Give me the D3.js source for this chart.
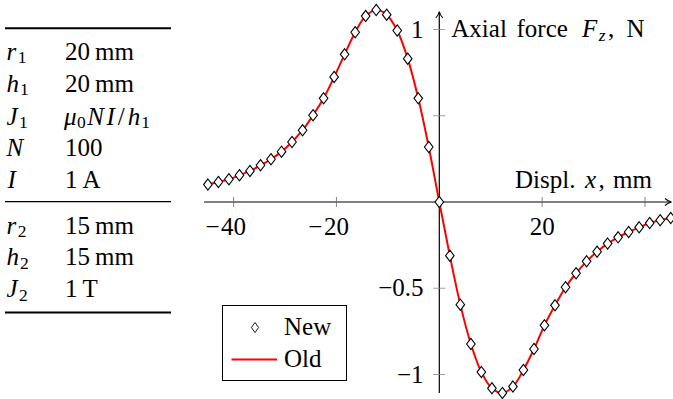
<!DOCTYPE html>
<html><head><meta charset="utf-8">
<script src="https://cdn.jsdelivr.net/npm/d3@7"></script>
<style>
html,body{margin:0;padding:0;background:#fff;}
svg{display:block;}
</style></head>
<body>
<script>
// ---- data ----
const xValues = [-45, -42.95, -40.91, -38.86, -36.82, -34.77, -32.73, -30.68, -28.64, -26.59, -24.55, -22.5, -20.45, -18.41, -16.36, -14.32, -12.27, -10.23, -8.18, -6.14, -4.09, -2.05, 0, 2.05, 4.09, 6.14, 8.18, 10.23, 12.27, 14.32, 16.36, 18.41, 20.45, 22.5, 24.55, 26.59, 28.64, 30.68, 32.73, 34.77, 36.82, 38.86, 40.91, 42.95, 45];
const newValues = [0.101, 0.116, 0.132, 0.155, 0.180, 0.213, 0.248, 0.292, 0.348, 0.416, 0.503, 0.601, 0.725, 0.856, 0.984, 1.078, 1.113, 1.086, 0.994, 0.831, 0.601, 0.319, 0.0, -0.311, -0.595, -0.823, -0.986, -1.080, -1.107, -1.070, -0.974, -0.852, -0.715, -0.599, -0.494, -0.413, -0.344, -0.288, -0.241, -0.205, -0.174, -0.147, -0.122, -0.106, -0.093];
const oldValues = [0.101, 0.116, 0.132, 0.155, 0.180, 0.213, 0.248, 0.292, 0.348, 0.416, 0.503, 0.601, 0.725, 0.856, 0.984, 1.078, 1.113, 1.086, 0.994, 0.831, 0.601, 0.319, 0.0, -0.311, -0.595, -0.823, -0.986, -1.080, -1.107, -1.070, -0.974, -0.852, -0.715, -0.599, -0.494, -0.413, -0.344, -0.288, -0.241, -0.205, -0.174, -0.147, -0.122, -0.106, -0.093];
const xTicks = [-40, -20, 20, 40];
const xTickLabels = ["\u221240", "\u221220", "20", ""];
const yTicks = [1, 0.5, -0.5, -1];
const yTickLabels = ["1", "", "\u22120.5", "\u22121"];
const seriesNames = ["New", "Old"];
// table rows: [symbol parts, value parts]
const tableGroup1 = [
  [[{t:"r",i:1},{t:"1",s:1,dx:1.5}], [{t:"20\u2009mm"}]],
  [[{t:"h",i:1},{t:"1",s:1,dx:1}], [{t:"20\u2009mm"}]],
  [[{t:"J",i:1},{t:"1",s:1,dx:1.5}], [{t:"\u03BC",i:1,dx:-1},{t:"0",s:1,dx:0.5},{t:"N",i:1,dx:1.5},{t:"I",i:1,dx:2.5},{t:"/",dx:3},{t:"h",i:1,dx:3},{t:"1",s:1,dx:1}]],
  [[{t:"N",i:1}], [{t:"100"}]],
  [[{t:"I",i:1,dx:1}], [{t:"1\u2009A"}]]
];
const tableGroup2 = [
  [[{t:"r",i:1},{t:"2",s:1,dx:1.5}], [{t:"15\u2009mm"}]],
  [[{t:"h",i:1},{t:"2",s:1,dx:1}], [{t:"15\u2009mm"}]],
  [[{t:"J",i:1},{t:"2",s:1,dx:1.5}], [{t:"1\u2009T"}]]
];

const W = 673, H = 399, FS = 25;
const FONT = "'Liberation Serif', 'Times New Roman', Times, serif";
const svg = d3.select("body").append("svg").attr("width", W).attr("height", H)
  .style("font-family", FONT);

const x = d3.scaleLinear().domain([-40, 40]).range([233.6, 645]);
const y = d3.scaleLinear().domain([-1, 1]).range([374.5, 29.5]);

function richText(g, parts, px, py, size, anchor) {
  const t = g.append("text").attr("x", px).attr("y", py).attr("font-size", size).style("font-family", FONT);
  if (anchor) t.attr("text-anchor", anchor);
  let shifted = 0;
  parts.forEach(p => {
    const ts = t.append("tspan").text(p.t);
    if (p.x !== undefined) ts.attr("x", p.x);
    if (p.dx !== undefined) ts.attr("dx", p.dx);
    if (p.i) ts.attr("font-style", "italic");
    if (p.s) {
      ts.attr("font-size", size * 0.7).attr("dy", size * 0.15 - shifted);
      shifted = size * 0.15;
    } else if (shifted) {
      ts.attr("dy", -shifted); shifted = 0;
    }
  });
  return t;
}

// ---- table ----
const tab = svg.append("g");
const c1 = 6.5, c2 = 65, tl = 5, tr = 171;
tab.append("line").attr("x1", tl).attr("x2", tr).attr("y1", 28.3).attr("y2", 28.3).attr("stroke", "#000").attr("stroke-width", 2);
tab.append("line").attr("x1", tl).attr("x2", tr).attr("y1", 201.7).attr("y2", 201.7).attr("stroke", "#000").attr("stroke-width", 1.3);
tab.append("line").attr("x1", tl).attr("x2", tr).attr("y1", 312.5).attr("y2", 312.5).attr("stroke", "#000").attr("stroke-width", 2);
const base1 = [59.5, 91.5, 124.5, 156.3, 188.3];
const base2 = [233.5, 265.3, 297];
tableGroup1.forEach((r, k) => { richText(tab, r[0], c1, base1[k], FS); richText(tab, r[1], c2, base1[k], FS); });
tableGroup2.forEach((r, k) => { richText(tab, r[0], c1, base2[k], FS); richText(tab, r[1], c2, base2[k], FS); });

// ---- axes ----
const ax = svg.append("g");
const y0 = y(0), x0 = x(0);
ax.append("line").attr("x1", 204).attr("x2", 671).attr("y1", y0).attr("y2", y0).attr("stroke", "#000").attr("stroke-width", 1.2);
ax.append("path").attr("d", `M${665},${y0-3.5} Q${668},${y0-0.8} ${671.5},${y0} Q${668},${y0+0.8} ${665},${y0+3.5}`).attr("fill", "none").attr("stroke", "#000").attr("stroke-width", 1.1);
ax.append("line").attr("x1", x0).attr("x2", x0).attr("y1", 393).attr("y2", 12).attr("stroke", "#000").attr("stroke-width", 1.2);
ax.append("path").attr("d", `M${x0-3.5},${18} Q${x0-0.8},${15} ${x0},${11.5} Q${x0+0.8},${15} ${x0+3.5},${18}`).attr("fill", "none").attr("stroke", "#000").attr("stroke-width", 1.1);

xTicks.forEach((v, k) => {
  ax.append("line").attr("x1", x(v)).attr("x2", x(v)).attr("y1", y0 - 5).attr("y2", y0 + 5).attr("stroke", "#666").attr("stroke-width", 0.8);
  const lab = xTickLabels[k];
  if (lab) {
    const neg = lab[0] === "\u2212";
    const digits = neg ? lab.slice(1) : lab;
    const t = ax.append("text").attr("y", 235).attr("font-size", FS).style("font-family", FONT);
    let ms = null;
    if (neg) ms = t.append("tspan").text("\u2212");
    const ds = t.append("tspan").text(digits);
    const dW = ds.node().getComputedTextLength();
    ds.attr("x", x(v) - dW / 2);
    if (ms) {
      const mW = ms.node().getComputedTextLength();
      ms.attr("x", x(v) - dW / 2 - mW - 1.5);
    }
  }
});
yTicks.forEach((v, k) => {
  ax.append("line").attr("x1", x0 - 6).attr("x2", x0 + 6).attr("y1", y(v)).attr("y2", y(v)).attr("stroke", "#888").attr("stroke-width", 0.8);
  if (yTickLabels[k]) ax.append("text").attr("x", 423.5).attr("y", y(v) + 8).attr("font-size", FS).style("font-family", FONT).attr("text-anchor", "end").text(yTickLabels[k]);
});

// axis labels (pieces placed to mimic TeX spacing)
richText(ax, [{t:"Axial"},{t:"force",x:516.5},{t:"F",i:1,x:582},{t:"z",s:1,i:1,dx:1.5},{t:",",dx:2.5},{t:"N",x:626.5}], 451.3, 36.8, FS);
richText(ax, [{t:"Displ."},{t:"x",i:1,x:585},{t:",",x:598.5},{t:"mm",x:613}], 515, 188.3, FS);

// ---- series ----
const oldData = xValues.map((v, k) => [v, oldValues[k]]);
const newData = xValues.map((v, k) => [v, newValues[k]]);
const line = d3.line().x(d => x(d[0])).y(d => y(d[1])).curve(d3.curveCatmullRom.alpha(0.5));
svg.append("path").datum(oldData).attr("d", line).attr("fill", "none").attr("stroke", "#ff0000").attr("stroke-width", 2);

const diamond = (cx, cy, hw, hh) => `M${cx},${cy-hh}L${cx+hw},${cy}L${cx},${cy+hh}L${cx-hw},${cy}Z`;
svg.append("g").selectAll("path").data(newData).join("path")
  .attr("d", d => diamond(x(d[0]), y(d[1]), 4.3, 5.6))
  .attr("fill", "#fff").attr("stroke", "#000").attr("stroke-width", 1.1);

// ---- legend ----
const lg = svg.append("g");
lg.append("rect").attr("x", 222.5).attr("y", 305.5).attr("width", 124).attr("height", 75).attr("fill", "#fff").attr("stroke", "#000").attr("stroke-width", 1);
lg.append("path").attr("d", diamond(255, 327.5, 3.6, 5)).attr("fill", "#fff").attr("stroke", "#000").attr("stroke-width", 0.9);
lg.append("text").attr("x", 284).attr("y", 334.5).attr("font-size", FS).style("font-family", FONT).text(seriesNames[0]);
lg.append("line").attr("x1", 231.5).attr("x2", 277).attr("y1", 359.5).attr("y2", 359.5).attr("stroke", "#ff0000").attr("stroke-width", 2);
lg.append("text").attr("x", 284).attr("y", 366.5).attr("font-size", FS).style("font-family", FONT).text(seriesNames[1]);
</script>
</body></html>
